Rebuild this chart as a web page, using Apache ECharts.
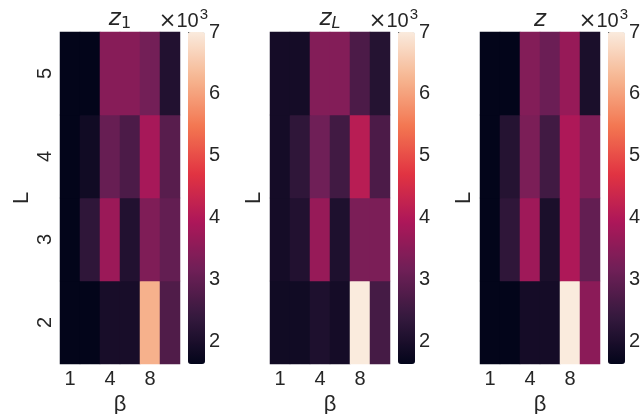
<!DOCTYPE html>
<html>
<head>
<meta charset="utf-8">
<script src="https://cdn.jsdelivr.net/npm/echarts@6/dist/echarts.min.js"></script>
<style>
html,body{margin:0;padding:0;background:#fff;}
#chart{width:644px;height:414px;}
</style>
</head>
<body>
<div id="chart"></div>
<script>
// ---- data ----
const betaCategories = ['1', '2', '4', '6', '8', '10'];
const lCategories = ['2', '3', '4', '5'];          // bottom to top
const colorbarTicks = [2, 3, 4, 5, 6, 7];
const colorMin = 1.63;
const colorMax = 7.0;
// values in units of 10^3, rows ordered L = 2, 3, 4, 5
const z1Values = [
  [1.63, 1.63, 1.95, 1.95, 6.20, 2.75],
  [1.63, 2.30, 3.70, 2.10, 3.35, 3.00],
  [1.63, 1.85, 3.05, 2.70, 3.85, 2.85],
  [1.63, 1.63, 3.45, 3.45, 3.20, 2.10]
];
const zLValues = [
  [1.85, 1.85, 2.05, 1.90, 7.00, 2.60],
  [1.90, 2.10, 3.65, 2.05, 3.30, 3.30],
  [1.90, 2.30, 3.15, 2.55, 4.10, 2.70],
  [1.90, 1.90, 3.40, 3.40, 2.70, 2.15]
];
const zValues = [
  [1.63, 1.63, 1.90, 1.90, 7.00, 3.50],
  [1.63, 2.30, 3.75, 2.00, 3.95, 3.00],
  [1.63, 2.15, 3.30, 2.55, 3.95, 3.35],
  [1.63, 1.63, 3.40, 3.10, 3.65, 2.00]
];
const panelTitles = [
  '{i|z}{s|1}',
  '{i|z}{si|L}',
  '{i|z}'
];
const panelValues = [z1Values, zLValues, zValues];

// ---- style ----
const FONT = "Liberation Sans, Arial, sans-serif";
const MATH = "DejaVu Sans, sans-serif";
const TXT = '#262626';
const rocket = ['#03051a', '#35193e', '#701f57', '#ad1759', '#e13342', '#f37651', '#f6b48f', '#faebdd'];
const TICK_FS = 20, NAME_FS = 22;

function toData(rows) {
  const out = [];
  rows.forEach((row, yi) => row.forEach((v, xi) => out.push([xi, yi, v])));
  return out;
}

const panelLeft = [60, 270, 480];
const heatW = 120, cbGap = 8, cbW = 17, plotTop = 32, plotH = 332;

const grid = [], xAxis = [], yAxis = [], series = [], visualMap = [], graphic = [];
panelLeft.forEach((left, i) => {
  grid.push({left: left, top: plotTop, width: heatW, height: plotH, containLabel: false, outerBoundsMode: 'none'});
  xAxis.push({
    type: 'category', gridIndex: i * 2, data: betaCategories,
    axisLine: {show: false}, axisTick: {show: false}, splitLine: {show: false},
    axisLabel: {interval: 1, fontSize: TICK_FS, color: TXT, fontFamily: FONT, margin: 5},
    name: 'β', nameLocation: 'middle', nameGap: 27,
    nameTextStyle: {fontSize: NAME_FS, color: TXT, fontFamily: FONT}
  });
  yAxis.push({
    type: 'category', gridIndex: i * 2, data: lCategories,
    axisLine: {show: false}, axisTick: {show: false}, splitLine: {show: false},
    axisLabel: {show: i === 0, rotate: 90, fontSize: TICK_FS, color: TXT, fontFamily: FONT, margin: 5},
    name: 'L', nameLocation: 'middle', nameRotate: 90, nameGap: i === 0 ? 27 : 5,
    nameTextStyle: {fontSize: NAME_FS, color: TXT, fontFamily: FONT}
  });
  const cbLeft = left + heatW + cbGap;
  grid.push({left: cbLeft, top: plotTop, width: cbW, height: plotH, containLabel: false, outerBoundsMode: 'none'});
  xAxis.push({type: 'value', gridIndex: i * 2 + 1, show: false, min: 0, max: 1});
  yAxis.push({
    type: 'value', gridIndex: i * 2 + 1, position: 'right', min: colorMin, max: colorMax,
    axisLine: {show: false}, splitLine: {show: false},
    axisTick: {show: true, length: 4, customValues: colorbarTicks, lineStyle: {color: '#555', width: 1}},
    axisLabel: {customValues: colorbarTicks, fontSize: TICK_FS, color: TXT, fontFamily: FONT, margin: 4}
  });
  series.push({
    type: 'heatmap', xAxisIndex: i * 2, yAxisIndex: i * 2,
    data: toData(panelValues[i]), emphasis: {disabled: true}, progressive: 0,
    itemStyle: {borderWidth: 0}
  });
  visualMap.push({
    type: 'continuous', seriesIndex: i, min: colorMin, max: colorMax,
    orient: 'vertical', left: cbLeft, top: plotTop, itemWidth: cbW, itemHeight: plotH,
    padding: 0, calculable: false, hoverLink: false, text: null,
    inRange: {color: rocket}
  });
  graphic.push({
    type: 'text', x: left + heatW / 2, y: 32,
    style: {
      text: panelTitles[i], align: 'center', verticalAlign: 'bottom',
      fill: TXT, fontSize: 22, fontFamily: MATH,
      rich: {
        i: {fontSize: 23, fontStyle: 'italic', fontFamily: MATH, fill: TXT},
        s: {fontSize: 16, fontFamily: MATH, fill: TXT, padding: [9, 0, 0, 0]},
        si: {fontSize: 16, fontStyle: 'italic', fontFamily: MATH, fill: TXT, padding: [9, 0, 0, 0]}
      }
    }
  });
  graphic.push({
    type: 'text', x: cbLeft + cbW + 3, y: 36,
    style: {
      text: '{x|×}{b|10}{sup|3}', align: 'right', verticalAlign: 'bottom',
      fill: TXT, fontSize: 20, fontFamily: FONT,
      rich: {
        x: {fontSize: 21, fontFamily: MATH, fill: TXT},
        b: {fontSize: 20, fontFamily: FONT, fill: TXT},
        sup: {fontSize: 15, fontFamily: FONT, fill: TXT, padding: [0, 0, 14, 1]}
      }
    }
  });
});

const chart = echarts.init(document.getElementById('chart'), null, {renderer: 'canvas'});
chart.setOption({
  animation: false,
  backgroundColor: '#ffffff',
  grid: grid, xAxis: xAxis, yAxis: yAxis, series: series, visualMap: visualMap, graphic: graphic
});
</script>
</body>
</html>
